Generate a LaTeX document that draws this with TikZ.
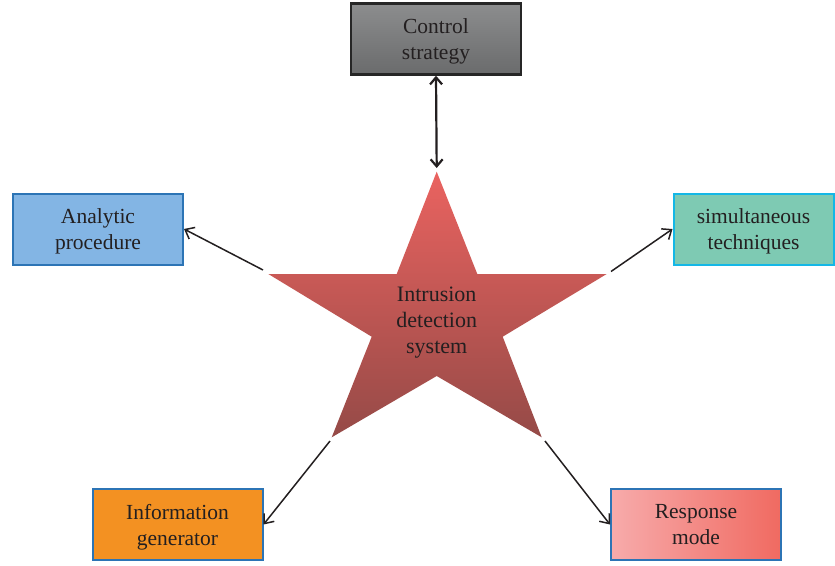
\documentclass[tikz,border=0pt]{standalone}
\usepackage{fontspec}
\setmainfont{Liberation Serif}
\usetikzlibrary{arrows.meta}
\definecolor{txt}{RGB}{35,31,32}
\definecolor{grayT}{RGB}{140,141,142}
\definecolor{grayB}{RGB}{106,107,108}
\definecolor{blueF}{RGB}{131,181,228}
\definecolor{blueB}{RGB}{44,116,181}
\definecolor{tealF}{RGB}{126,202,179}
\definecolor{cyanB}{RGB}{20,183,230}
\definecolor{orangeF}{RGB}{243,145,34}
\definecolor{pinkL}{RGB}{247,171,171}
\definecolor{redR}{RGB}{240,106,97}
\definecolor{starT}{RGB}{234,99,96}
\definecolor{starB}{RGB}{149,74,71}
\tikzset{
  box/.style={draw, line width=2pt, minimum width=170pt, minimum height=71pt,
    align=center, text=txt, inner sep=0pt, text depth=-3pt},
  conn/.style={line width=1.5pt, draw=txt, -{Straight Barb[length=8pt,width=13pt,line width=1.5pt]}},
  dconn/.style={line width=2.2pt, draw=txt, {Straight Barb[length=7pt,width=12pt]}-{Straight Barb[length=7pt,width=12pt]}}
}
\begin{document}
\begin{tikzpicture}[x=1pt,y=-1pt,font=\fontsize{21.5}{26}\selectfont]
\useasboundingbox (0,0) rectangle (835,565);
% boxes
\node[box, draw=black!85, line width=2.4pt, top color=grayT, bottom color=grayB] (ctrl) at (436,39) {Control\\strategy};
\node[box, draw=blueB, fill=blueF] (ana) at (98,229) {Analytic\\procedure};
\node[box, draw=cyanB, fill=tealF, minimum width=160pt] (sim) at (753.5,229) {simultaneous\\techniques};
\node[box, draw=blueB, fill=orangeF] (info) at (177.5,524.5) {Information\\generator};
\node[box, draw=blueB, left color=pinkL, right color=redR] (resp) at (696,524.5) {Response\\mode};
% star
\coordinate (tT) at (436.7,171.7);
\coordinate (tR) at (606.7,274);
\coordinate (tL) at (268.3,274);
\coordinate (tBR) at (541.7,437.3);
\coordinate (tBL) at (331.7,437.3);
\path[top color=starT, bottom color=starB] (tT) -- (477.3,274) -- (tR) -- (502.7,336.7) -- (tBR)
  -- (436.7,376) -- (tBL) -- (371.7,336.7) -- (tL) -- (396.7,274) -- cycle;
\node[text=txt, align=center, inner sep=0pt, font=\fontsize{22}{26}\selectfont] (ids) at (436.7,323) {Intrusion\\detection\\system};
% connector free ends near star tips
\coordinate (aT) at (436.7,168);
\coordinate (aL) at (263,270);
\coordinate (aR) at (611,271.5);
\coordinate (aBL) at (330,441);
\coordinate (aBR) at (545,441);
% connectors
\draw[dconn] (ctrl.south) -- (aT);
\draw[conn] (aL) -- (ana.east);
\draw[conn] (aR) -- (sim.west);
\draw[conn] (aBL) -- (info.east);
\draw[conn] (aBR) -- (resp.west);
\end{tikzpicture}
\end{document}
